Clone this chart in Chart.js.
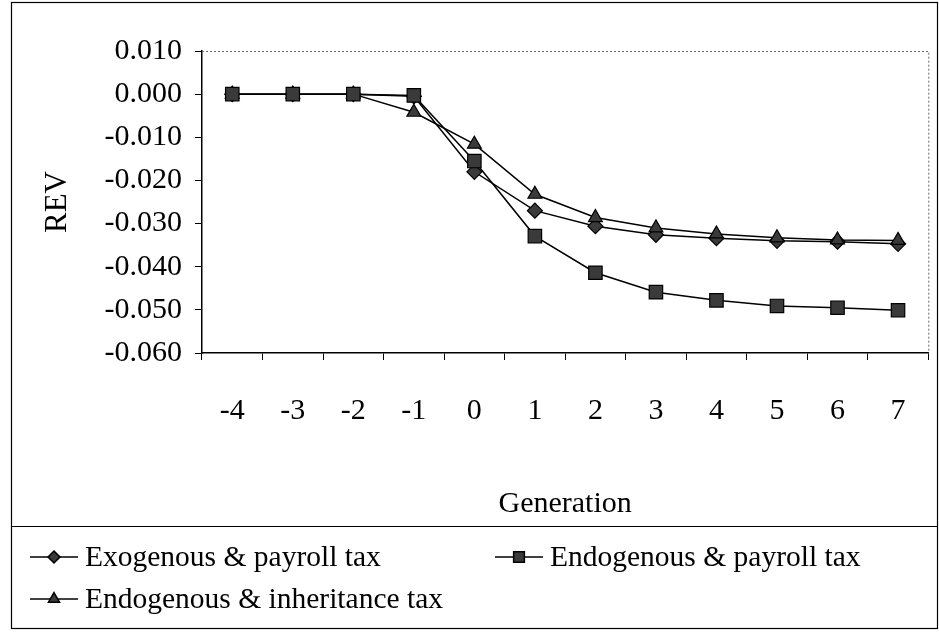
<!DOCTYPE html>
<html>
<head>
<meta charset="utf-8">
<script src="https://cdn.jsdelivr.net/npm/chart.js@4.4.1/dist/chart.umd.min.js"></script>
<style>
  html, body { margin: 0; padding: 0; background: #fff; }
</style>
</head>
<body>
<canvas id="revChart" width="939" height="632"></canvas>
<script>
// Datos
const generations = ['-4', '-3', '-2', '-1', '0', '1', '2', '3', '4', '5', '6', '7'];
const exoPayroll = [0, 0, 0, -0.0005, -0.018, -0.027, -0.0306, -0.0326, -0.0334, -0.034, -0.0342, -0.0347];
const endoPayroll = [0, 0, 0, -0.0003, -0.0155, -0.0329, -0.0414, -0.0459, -0.0478, -0.0491, -0.0495, -0.0501];
const endoInheritance = [0, 0, 0, -0.0042, -0.0116, -0.0232, -0.0286, -0.031, -0.0324, -0.0333, -0.0338, -0.0339];
const yTickValues = [0.01, 0, -0.01, -0.02, -0.03, -0.04, -0.05, -0.06];
const seriesNames = ['Exogenous & payroll tax', 'Endogenous & payroll tax', 'Endogenous & inheritance tax'];

const serif = 'Liberation Serif';
const markerFill = '#3a3a3a';

// marco, borde del area y leyenda
const framePlugin = {
    id: 'frame',
    beforeDraw(chart) {
        const ctx = chart.ctx;
        ctx.save();
        ctx.fillStyle = '#fff';
        ctx.fillRect(0, 0, chart.width, chart.height);
        ctx.restore();
    },
    afterDraw(chart) {
        const ctx = chart.ctx;
        const area = chart.chartArea;
        ctx.save();

        // borde punteado arriba y derecha
        ctx.strokeStyle = '#666';
        ctx.lineWidth = 1;
        ctx.setLineDash([2, 2]);
        ctx.beginPath();
        ctx.moveTo(area.left, area.top + 0.5);
        ctx.lineTo(area.right + 0.5, area.top + 0.5);
        ctx.lineTo(area.right + 0.5, area.bottom);
        ctx.stroke();
        ctx.setLineDash([]);

        // marco exterior
        ctx.strokeStyle = '#000';
        ctx.lineWidth = 1.2;
        ctx.strokeRect(11.5, 2.5, 926, 626);
        ctx.beginPath();
        ctx.moveTo(11.5, 526.5);
        ctx.lineTo(937.5, 526.5);
        ctx.stroke();

        // leyenda
        const slots = [
            { x: 30, y: 557 },
            { x: 495, y: 557 },
            { x: 30, y: 599 }
        ];
        chart.data.datasets.forEach((ds, i) => {
            const s = slots[i];
            ctx.strokeStyle = '#000';
            ctx.lineWidth = 1.5;
            ctx.beginPath();
            ctx.moveTo(s.x, s.y);
            ctx.lineTo(s.x + 48, s.y);
            ctx.stroke();
            ctx.fillStyle = markerFill;
            Chart.helpers.drawPoint(ctx, {
                pointStyle: ds.pointStyle,
                radius: ds.pointRadius * 0.8,
                rotation: 0,
                borderWidth: 1.2
            }, s.x + 24, s.y);
            ctx.fillStyle = '#000';
            ctx.font = '29.5px "' + serif + '"';
            ctx.textBaseline = 'middle';
            ctx.textAlign = 'left';
            ctx.fillText(ds.label, s.x + 55, s.y + 1);
        });
        ctx.restore();
    }
};

const ctx = document.getElementById('revChart').getContext('2d');

new Chart(ctx, {
    type: 'line',
    data: {
        labels: generations,
        datasets: [
            {
                label: seriesNames[0],
                data: exoPayroll,
                borderColor: '#000',
                borderWidth: 1.5,
                pointStyle: 'rectRot',
                pointRadius: 7.5,
                pointBackgroundColor: markerFill,
                pointBorderColor: '#000',
                pointBorderWidth: 1.2,
                tension: 0,
                order: 2
            },
            {
                label: seriesNames[1],
                data: endoPayroll,
                borderColor: '#000',
                borderWidth: 1.5,
                pointStyle: 'rect',
                pointRadius: 9.5,
                pointBackgroundColor: markerFill,
                pointBorderColor: '#000',
                pointBorderWidth: 1.2,
                tension: 0,
                order: 0
            },
            {
                label: seriesNames[2],
                data: endoInheritance,
                borderColor: '#000',
                borderWidth: 1.5,
                pointStyle: 'triangle',
                pointRadius: 8,
                pointBackgroundColor: markerFill,
                pointBorderColor: '#000',
                pointBorderWidth: 1.2,
                tension: 0,
                order: 1
            }
        ]
    },
    options: {
        responsive: false,
        animation: false,
        layout: {
            padding: { top: 51, right: 9, bottom: 105, left: 0 }
        },
        plugins: {
            legend: { display: false },
            tooltip: { enabled: false }
        },
        scales: {
            x: {
                type: 'category',
                offset: true,
                afterFit: function (scale) {
                    scale.height = 174;
                },
                grid: {
                    offset: true,
                    drawOnChartArea: false,
                    tickLength: 7,
                    color: '#000'
                },
                border: { color: '#000', width: 1.5 },
                ticks: {
                    color: '#000',
                    padding: 33,
                    maxRotation: 0,
                    autoSkip: false,
                    font: { family: serif, size: 30 }
                },
                title: {
                    display: true,
                    text: 'Generation',
                    color: '#000',
                    font: { family: serif, size: 30 },
                    padding: { top: 0, bottom: 5 }
                }
            },
            y: {
                min: -0.06,
                max: 0.01,
                afterFit: function (scale) {
                    scale.width = 202;
                },
                afterBuildTicks: function (scale) {
                    scale.ticks = yTickValues.map(v => ({ value: v }));
                },
                grid: {
                    drawOnChartArea: false,
                    tickLength: 7,
                    color: '#000'
                },
                border: { color: '#000', width: 1.5 },
                ticks: {
                    color: '#000',
                    padding: 13,
                    font: { family: serif, size: 30 },
                    callback: function (value) {
                        return value.toFixed(3);
                    }
                },
                title: {
                    display: true,
                    text: 'REV',
                    color: '#000',
                    font: { family: serif, size: 31 },
                    padding: { top: 39, bottom: 0 }
                }
            }
        }
    },
    plugins: [framePlugin]
});
</script>
</body>
</html>
